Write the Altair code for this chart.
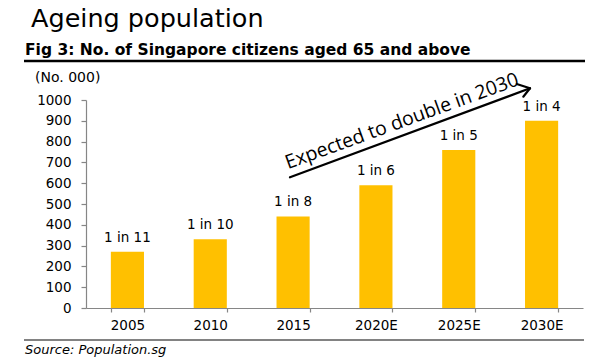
import altair as alt
import pandas as pd

# ---- data ----
years = ["2005", "2010", "2015", "2020E", "2025E", "2030E"]
citizens = [270, 330, 440, 590, 760, 900]
ratios = ["1 in 11", "1 in 10", "1 in 8", "1 in 6", "1 in 5", "1 in 4"]
y_ticks = list(range(0, 1001, 100))

title_text = "Ageing population"
subtitle_text = "Fig 3: No. of Singapore citizens aged 65 and above"
unit_text = "(No. 000)"
arrow_text = "Expected to double in 2030"
source_text = "Source: Population.sg"

df = pd.DataFrame({"year": years, "value": citizens, "ratio": ratios})

W, H = 497, 208
FONT = "DejaVu Sans"
AXIS_GREY = "#868686"
BAR = "#FFC000"

x = alt.X(
    "year:N", sort=years, title=None,
    scale=alt.Scale(paddingInner=0.6, paddingOuter=0.3),
    axis=alt.Axis(labelAngle=0, tickBand="extent", tickSize=4, labelPadding=6,
                  labelFontSize=13.5, labelColor="black", labelFont=FONT,
                  domainColor=AXIS_GREY, tickColor=AXIS_GREY, domainWidth=1.2,
                  tickWidth=1.2),
)
y = alt.Y(
    "value:Q", title=None,
    scale=alt.Scale(domain=[0, 1000], nice=False),
    axis=alt.Axis(values=y_ticks, format="d", grid=False, tickSize=5, labelPadding=10,
                  labelFontSize=13.5, labelColor="black", labelFont=FONT,
                  domainColor=AXIS_GREY, tickColor=AXIS_GREY, domainWidth=1.2,
                  tickWidth=1.2),
)

base = alt.Chart(df).encode(x=x, y=y)
bars = base.mark_bar(color=BAR)
labels = base.mark_text(dy=-10, baseline="alphabetic", fontSize=13.5,
                        font=FONT, color="black").encode(text="ratio:N")


def note(text, xv, yv, size, align="left", **kw):
    return alt.Chart(alt.Data(values=[{}])).mark_text(
        text=text, align=align, baseline="alphabetic", fontSize=size,
        color="black", **kw
    ).encode(x=alt.value(xv), y=alt.value(yv))


def seg(x1, y1, x2, y2, width, color, cap="butt"):
    return alt.Chart(alt.Data(values=[{}])).mark_rule(
        strokeWidth=width, color=color, strokeCap=cap
    ).encode(x=alt.value(x1), y=alt.value(y1), x2=alt.value(x2), y2=alt.value(y2))


title = note(title_text, -55, -73.5, 25.5, font=FONT)
subtitle = note(subtitle_text, -61, -45, 15.5, font=FONT, fontWeight="bold")
top_line = seg(-62, -39, 499, -39, 2.5, "black")
unit = note(unit_text, -51, -18, 14, font=FONT)
bottom_line = seg(-62, 240, 498, 240, 1.5, "#595959")
source = note(source_text, -61, 253.5, 13, font=FONT, fontStyle="italic")

shaft = seg(204, 77.3, 444, -11.7, 2.2, "black", cap="round")
arm1 = seg(444, -11.7, 430.7, -16, 2.2, "black", cap="round")
arm2 = seg(444, -11.7, 437.3, -3.3, 2.2, "black", cap="round")
arrow_label = note(arrow_text, 318, 27, 19.5, align="center", font="Open Sans", angle=340)

chart = alt.layer(
    bars, labels, title, subtitle, top_line, unit, bottom_line, source,
    shaft, arm1, arm2, arrow_label
).properties(
    width=W, height=H,
    autosize=alt.AutoSizeParams(type="none"),
    padding={"left": 78, "top": 92, "right": 9, "bottom": 50},
).configure_view(stroke=None)

chart.save("out.html", embed_options={"renderer": "svg", "actions": False})
